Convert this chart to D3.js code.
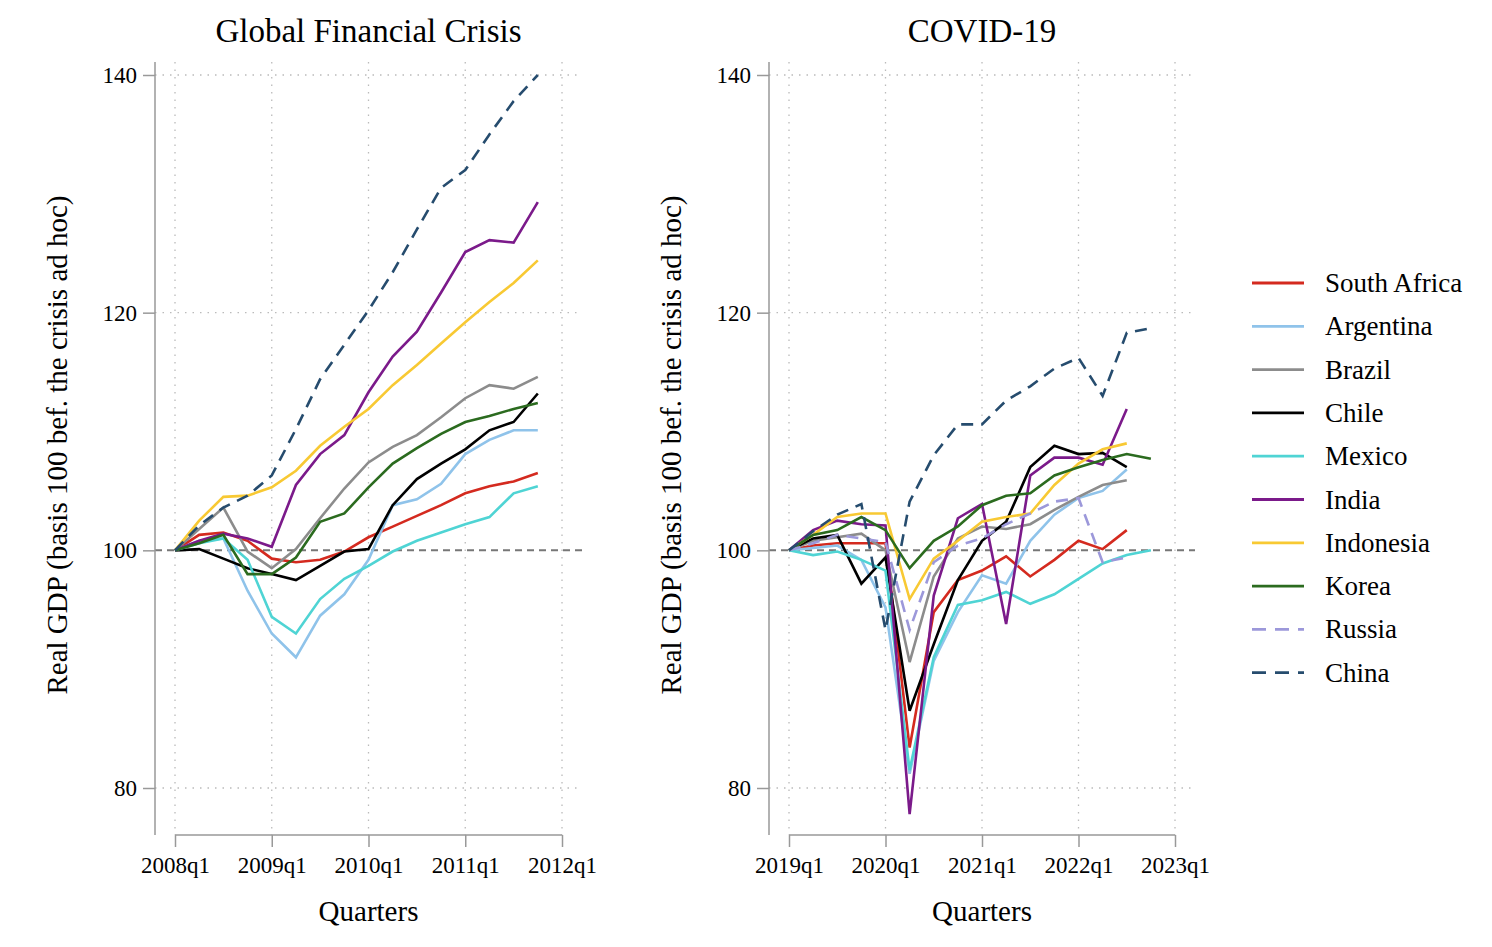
<!DOCTYPE html>
<html>
<head>
<meta charset="utf-8">
<script src="https://cdn.jsdelivr.net/npm/d3@7"></script>
<style>
  body { margin: 0; background: #fff; }
  text { font-family: "Liberation Serif", "Times New Roman", serif; }
</style>
</head>
<body>
<svg id="chart"></svg>
<script>
let width = 1492;
let height = 947;

let countries = ["South Africa", "Argentina", "Brazil", "Chile", "Mexico", "India", "Indonesia", "Korea", "Russia", "China"];
let colors = ["#d42a1f", "#8fc3ea", "#8c8c8c", "#000000", "#4fd4d4", "#7b1a8a", "#f8c933", "#2b6b1f", "#9c98da", "#264c6e"];
let dashed = [false, false, false, false, false, false, false, false, true, true];

// quarters since 2008q1
let gfc = {
  "South Africa": [100, 101.3, 101.5, 100.8, 99.3, 99.0, 99.2, 99.9, 101.1, 102.0, 102.9, 103.8, 104.8, 105.4, 105.8, 106.5],
  "Argentina": [100, 100.8, 101.0, 96.6, 93.0, 91.0, 94.5, 96.3, 99.2, 103.8, 104.3, 105.6, 108.1, 109.3, 110.1, 110.1],
  "Brazil": [100, 101.8, 103.6, 99.9, 98.5, 100.1, 102.7, 105.2, 107.4, 108.7, 109.7, 111.2, 112.8, 113.9, 113.6, 114.6],
  "Chile": [100, 100.1, 99.3, 98.5, 98.0, 97.5, 98.7, 99.9, 100.1, 103.8, 106.0, 107.3, 108.5, 110.1, 110.8, 113.2],
  "Mexico": [100, 100.6, 101.0, 99.2, 94.4, 93.0, 95.9, 97.6, 98.7, 99.9, 100.8, 101.5, 102.2, 102.8, 104.8, 105.4],
  "India": [100, 100.8, 101.4, 101.0, 100.3, 105.5, 108.1, 109.7, 113.3, 116.3, 118.4, 121.7, 125.1, 126.1, 125.9, 129.3],
  "Indonesia": [100, 102.5, 104.5, 104.6, 105.3, 106.7, 108.8, 110.4, 111.9, 113.9, 115.6, 117.4, 119.2, 120.9, 122.5, 124.4],
  "Korea": [100, 100.6, 101.3, 98.0, 98.0, 99.4, 102.4, 103.1, 105.3, 107.3, 108.6, 109.8, 110.8, 111.3, 111.9, 112.4],
  "China": [100, 102.1, 103.6, 104.6, 106.3, 110.2, 114.4, 117.3, 120.2, 123.4, 127.0, 130.5, 132.0, 135.0, 137.8, 140.0]
};

// quarters since 2019q1
let covid = {
  "South Africa": [100, 100.4, 100.6, 100.6, 100.6, 83.4, 94.8, 97.5, 98.3, 99.5, 97.8, 99.2, 100.8, 100.1, 101.7],
  "Argentina": [100, 100.2, 100.4, 99.2, 95.2, 81.2, 90.7, 94.8, 97.9, 97.2, 100.8, 103.0, 104.4, 105.0, 106.8],
  "Brazil": [100, 100.8, 101.1, 101.4, 100.0, 90.6, 97.8, 101.0, 102.0, 101.8, 102.2, 103.4, 104.5, 105.5, 105.9],
  "Chile": [100, 101.0, 101.3, 97.2, 99.4, 86.5, 92.1, 97.5, 100.8, 102.4, 107.0, 108.8, 108.1, 108.2, 107.0],
  "Mexico": [100, 99.6, 99.9, 99.2, 98.3, 81.5, 91.0, 95.4, 95.8, 96.5, 95.5, 96.3, 97.6, 98.9, 99.6, 100.0],
  "India": [100, 101.7, 102.5, 102.2, 102.1, 77.8, 96.2, 102.7, 103.9, 93.8, 106.3, 107.8, 107.8, 107.2, 111.9],
  "Indonesia": [100, 101.3, 102.8, 103.1, 103.1, 95.9, 99.3, 100.8, 102.4, 102.8, 103.1, 105.5, 107.3, 108.5, 109.0],
  "Korea": [100, 101.3, 101.7, 102.8, 101.7, 98.5, 100.8, 102.0, 103.8, 104.6, 104.8, 106.3, 107.0, 107.6, 108.1, 107.7],
  "Russia": [100, 100.6, 101.3, 101.0, 100.7, 93.3, 99.0, 100.4, 101.0, 102.2, 103.1, 104.1, 104.4, 99.0, 99.4],
  "China": [100, 101.6, 103.0, 103.9, 93.3, 104.1, 108.0, 110.6, 110.6, 112.6, 113.8, 115.3, 116.2, 113.0, 118.3, 118.7]
};

let yTicks = [80, 100, 120, 140];
let gfcTicks = ["2008q1", "2009q1", "2010q1", "2011q1", "2012q1"];
let covidTicks = ["2019q1", "2020q1", "2021q1", "2022q1", "2023q1"];

let svg = d3.select("#chart").attr("width", width).attr("height", height);

let yScale = d3.scaleLinear().domain([80, 140]).range([788, 75]);
let yBottom = 835;
let yTop = 62;

let drawPanel = (title, data, ticks, x0, x1, axisX) => {
  let xScale = d3.scaleLinear().domain([0, 16]).range([x0, x1]);
  let g = svg.append("g");

  // dotted grid
  g.selectAll(".vgrid").data(d3.range(0, 17, 4)).enter().append("line")
    .attr("x1", (d) => xScale(d)).attr("x2", (d) => xScale(d))
    .attr("y1", yTop).attr("y2", yBottom)
    .attr("stroke", "#bbb").attr("stroke-width", 1.3).attr("stroke-dasharray", "1.5,6");
  g.selectAll(".hgrid").data(yTicks.filter((d) => d != 100)).enter().append("line")
    .attr("x1", axisX).attr("x2", x1 + 20)
    .attr("y1", (d) => yScale(d)).attr("y2", (d) => yScale(d))
    .attr("stroke", "#bbb").attr("stroke-width", 1.3).attr("stroke-dasharray", "1.5,6");
  g.append("line")
    .attr("x1", axisX).attr("x2", x1 + 20)
    .attr("y1", yScale(100)).attr("y2", yScale(100))
    .attr("stroke", "#777").attr("stroke-width", 2).attr("stroke-dasharray", "7,5");

  // axes
  let yAxis = d3.axisLeft(yScale).tickValues(yTicks).tickSize(12).tickPadding(6);
  let ya = g.append("g").attr("transform", "translate(" + axisX + ",0)").call(yAxis);
  ya.select(".domain").attr("d", "M0," + yTop + "V" + yBottom);

  let xAxis = d3.axisBottom(xScale).tickValues(d3.range(0, 17, 4))
    .tickFormat((d, i) => ticks[i]).tickSize(12).tickPadding(10);
  let xa = g.append("g").attr("transform", "translate(0," + yBottom + ")").call(xAxis);
  xa.select(".domain").attr("d", "M" + xScale(0) + ",0H" + xScale(16));

  svg.selectAll(".domain, .tick line").attr("stroke", "#999").attr("stroke-width", 1.5);
  svg.selectAll(".tick text").attr("font-size", 23).attr("fill", "#000")
    .style("font-family", "Liberation Serif");

  // lines
  let line = d3.line().x((d, i) => xScale(i)).y((d) => yScale(d));
  countries.forEach((c, k) => {
    if (!data[c]) return;
    g.append("path").datum(data[c]).attr("d", line)
      .attr("fill", "none").attr("stroke", colors[k]).attr("stroke-width", 2.6)
      .attr("stroke-dasharray", dashed[k] ? "12,8" : null);
  });

  let mid = (xScale(0) + xScale(16)) / 2;
  g.append("text").attr("x", mid).attr("y", 42).attr("text-anchor", "middle")
    .attr("font-size", 33).text(title);
  g.append("text").attr("x", mid).attr("y", 921).attr("text-anchor", "middle")
    .attr("font-size", 29).text("Quarters");
  g.append("text").attr("transform", "translate(" + (axisX - 88) + ",445) rotate(-90)")
    .attr("text-anchor", "middle").attr("font-size", 29)
    .text("Real GDP (basis 100 bef. the crisis ad hoc)");
};

drawPanel("Global Financial Crisis", gfc, gfcTicks, 175, 562, 155);
drawPanel("COVID-19", covid, covidTicks, 789, 1175, 769);

// legend
let legend = svg.append("g");
countries.forEach((c, k) => {
  let y = 283 + k * 43.3;
  legend.append("line").attr("x1", 1252).attr("x2", 1304).attr("y1", y).attr("y2", y)
    .attr("stroke", colors[k]).attr("stroke-width", 2.8)
    .attr("stroke-dasharray", dashed[k] ? "14,9" : null);
  legend.append("text").attr("x", 1325).attr("y", y + 9).attr("font-size", 27).text(c);
});
</script>
</body>
</html>
